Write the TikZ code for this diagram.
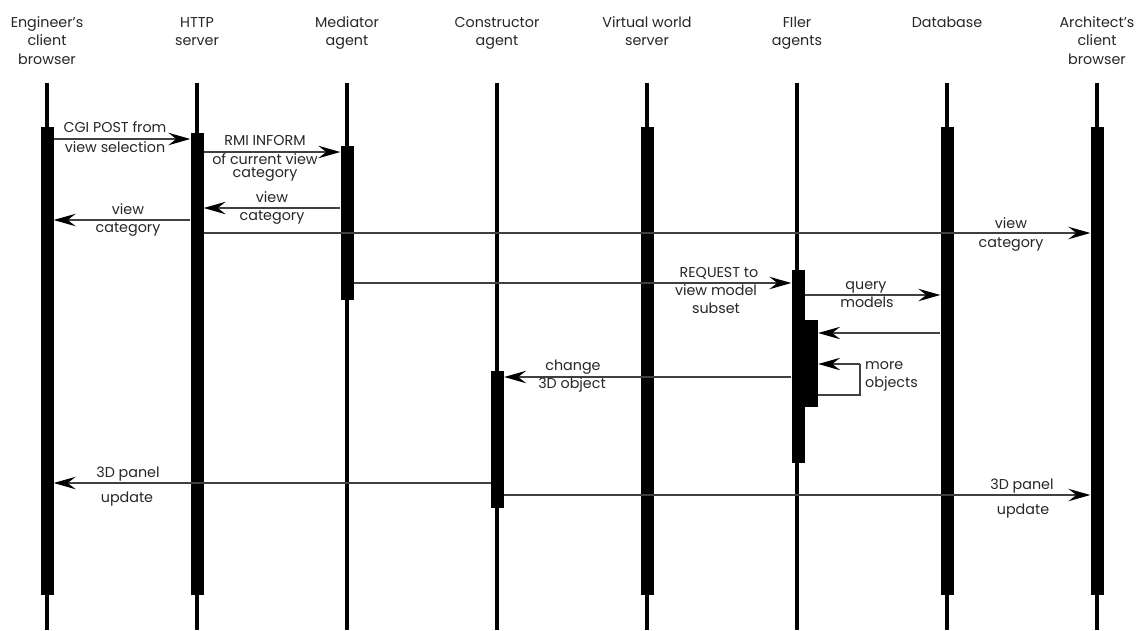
\documentclass[tikz,border=0pt]{standalone}
\usepackage{fontspec}
\setmainfont{Poppins}
\usetikzlibrary{arrows.meta}
\begin{document}
\begin{tikzpicture}[x=1pt,y=-1pt,
  lifeline/.style={line width=4pt,draw=black},
  actbar/.style={rectangle,fill=black,draw=none,inner sep=0pt,minimum width=13pt,anchor=north},
  msg/.style={line width=1.3pt,draw=black!75,-{Stealth[length=22pt,width=12.5pt,inset=8pt,fill=black,color=black]}},
  loopline/.style={line width=1.3pt,draw=black!75},
  lbl/.style={font=\fontsize{14.3}{18}\selectfont,text=black!85,inner sep=0pt,anchor=base}]
\useasboundingbox (0,0) rectangle (1144,630);
% headers
\node[lbl] (h1a) at (47,27) {Engineer’s};
\node[lbl] (h1b) at (47,45) {client};
\node[lbl] (h1c) at (47,64) {browser};
\node[lbl] (h2a) at (197,27) {HTTP};
\node[lbl] (h2b) at (197,45) {server};
\node[lbl] (h3a) at (347,27) {Mediator};
\node[lbl] (h3b) at (347,45) {agent};
\node[lbl] (h4a) at (497,27) {Constructor};
\node[lbl] (h4b) at (497,45) {agent};
\node[lbl] (h5a) at (647,27) {Virtual world};
\node[lbl] (h5b) at (647,45) {server};
\node[lbl] (h6a) at (797,27) {FIler};
\node[lbl] (h6b) at (797,45) {agents};
\node[lbl] (h7a) at (947,27) {Database};
\node[lbl] (h8a) at (1097,27) {Architect’s};
\node[lbl] (h8b) at (1097,45) {client};
\node[lbl] (h8c) at (1097,64) {browser};
% lifelines
\foreach \n/\x in {e/47,h/197,m/347,c/497,v/647,f/797,d/947,a/1097}{
  \coordinate (\n T) at (\x,83);
  \coordinate (\n B) at (\x,630);
  \draw[lifeline] (\n T) -- (\n B);
}
% activation bars
\node[actbar,minimum height=468pt] (eA) at (47,127) {};
\node[actbar,minimum height=462pt] (hA) at (197,133) {};
\node[actbar,minimum height=154pt] (mA) at (347,146) {};
\node[actbar,minimum height=137pt] (cA) at (497.5,371) {};
\node[actbar,minimum height=468pt] (vA) at (647,127) {};
\node[actbar,minimum height=193pt] (fA) at (798,270) {};
\node[actbar,minimum width=14pt,minimum height=87pt] (fB) at (811,320) {};
\node[actbar,minimum height=468pt] (dA) at (947,127) {};
\node[actbar,minimum height=468pt] (aA) at (1097,127) {};
% messages
\draw[msg] (eA.east |- 0,139) -- (hA.west |- 0,139);
\node[lbl] (l1a) at (115,132) {CGI POST from};
\node[lbl] (l1b) at (115,152) {view selection};

\draw[msg] (hA.east |- 0,152) -- (mA.west |- 0,152);
\node[lbl] (l2a) at (265,145) {RMI INFORM};
\node[lbl] (l2b) at (265,164) {of current view};
\node[lbl] (l2c) at (265,177) {category};

\draw[msg] (mA.west |- 0,208) -- (hA.east |- 0,208);
\node[lbl] (l3a) at (272,202) {view};
\node[lbl] (l3b) at (272,220) {category};

\draw[msg] (hA.west |- 0,220) -- (eA.east |- 0,220);
\node[lbl] (l4a) at (128,214) {view};
\node[lbl] (l4b) at (128,232) {category};

\draw[msg] (hA.east |- 0,233) -- (aA.west |- 0,233);
\node[lbl] (l5a) at (1011,228) {view};
\node[lbl] (l5b) at (1011,247) {category};

\draw[msg] (mA.east |- 0,283) -- (fA.west |- 0,283);
\node[lbl] (l6a) at (719,277) {REQUEST to};
\node[lbl] (l6b) at (716,295) {view model};
\node[lbl] (l6c) at (716,313) {subset};

\draw[msg] (fA.east |- 0,295) -- (dA.west |- 0,295);
\node[lbl] (l7a) at (866,289) {query};
\node[lbl] (l7b) at (867,307) {models};

\draw[msg] (dA.west |- 0,333) -- (fB.east |- 0,333);

\coordinate (lp1) at (860,395);
\coordinate (lp2) at (860,364);
\draw[loopline] (fB.east |- 0,395) -- (lp1) -- (lp2);
\draw[msg] (lp2) -- (fB.east |- 0,364);
\node[lbl,anchor=base west] (l9a) at (865,369) {more};
\node[lbl,anchor=base west] (l9b) at (865,387) {objects};

\draw[msg] (fA.west |- 0,377) -- (cA.east |- 0,377);
\node[lbl] (l10a) at (573,370) {change};
\node[lbl] (l10b) at (572,388) {3D object};

\draw[msg] (cA.west |- 0,483) -- (eA.east |- 0,483);
\node[lbl] (l11a) at (128,477) {3D panel};
\node[lbl] (l11b) at (127,502) {update};

\draw[msg] (cA.east |- 0,495) -- (aA.west |- 0,495);
\node[lbl] (l12a) at (1022,489) {3D panel};
\node[lbl] (l12b) at (1023,514) {update};
\end{tikzpicture}
\end{document}
